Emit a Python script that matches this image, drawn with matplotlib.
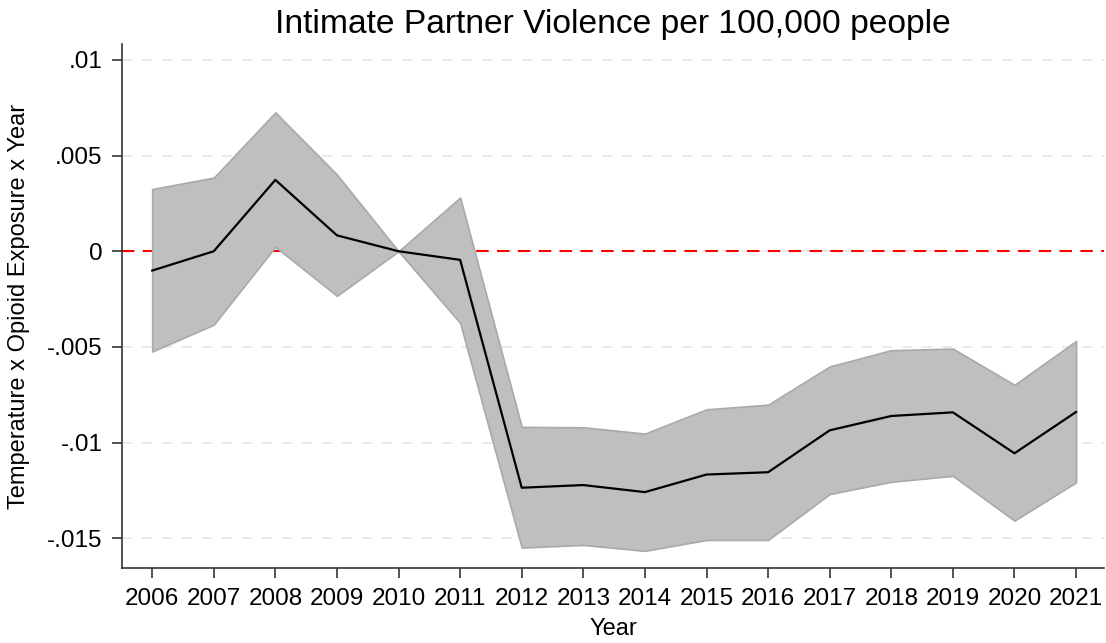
import matplotlib
matplotlib.use("Agg")
import matplotlib.pyplot as plt
import numpy as np

# point estimates and 95% CI
years = [2006, 2007, 2008, 2009, 2010, 2011, 2012, 2013,
         2014, 2015, 2016, 2017, 2018, 2019, 2020, 2021]
coef = [-0.00101, 0.0, 0.00373, 0.00083, 0.0, -0.00045, -0.01236, -0.01222,
        -0.01259, -0.01167, -0.01155, -0.00936, -0.00861, -0.00842, -0.01056, -0.0084]
ci_hi = [0.00325, 0.00385, 0.00726, 0.00401, 0.0, 0.00281, -0.00918, -0.0092,
         -0.00953, -0.00826, -0.00802, -0.00602, -0.00517, -0.00509, -0.00698, -0.00469]
ci_lo = [-0.00524, -0.00384, 0.00023, -0.00233, 0.0, -0.00375, -0.01549, -0.01535,
         -0.01566, -0.01509, -0.01509, -0.01269, -0.01205, -0.01174, -0.01408, -0.01208]
yticks = [0.01, 0.005, 0.0, -0.005, -0.01, -0.015]
ytick_labels = [".01", ".005", "0", "-.005", "-.01", "-.015"]

plt.rcParams['font.family'] = ['Liberation Sans', 'DejaVu Sans']

fig = plt.figure(figsize=(11.06, 6.43), dpi=100)
ax = fig.add_axes([0.1103, 0.1165, 0.8877, 0.815])

for y in yticks:
    ax.axhline(y, color='#e6e6e6', lw=1.2, ls=(0, (6, 6)), zorder=0)
ax.axhline(0, color='#ff0000', lw=1.5, ls=(0, (6, 4)), zorder=1)

ax.fill_between(years, ci_lo, ci_hi, facecolor='#bfbfbf', edgecolor='#a9a9a9',
                lw=1.2, zorder=2)
ax.plot(years, coef, color='black', lw=1.6, zorder=3)

ax.set_xlim(2005.51, 2021.45)
ax.set_ylim(-0.01656, 0.01083)
ax.set_xticks(years)
ax.set_xticklabels([str(y) for y in years])
ax.set_yticks(yticks)
ax.set_yticklabels(ytick_labels)

for s in ['top', 'right']:
    ax.spines[s].set_visible(False)
for s in ['left', 'bottom']:
    ax.spines[s].set_color('#333333')
    ax.spines[s].set_linewidth(1.2)
ax.tick_params(axis='both', length=7, width=1.2, color='#333333', labelsize=17.5, pad=7)

ax.set_title("Intimate Partner Violence per 100,000 people", fontsize=24.2, pad=8)
ax.set_xlabel("Year", fontsize=17, labelpad=6)
ax.set_ylabel("Temperature x Opioid Exposure x Year", fontsize=17, labelpad=12)

fig.savefig("out.png", dpi=100)
